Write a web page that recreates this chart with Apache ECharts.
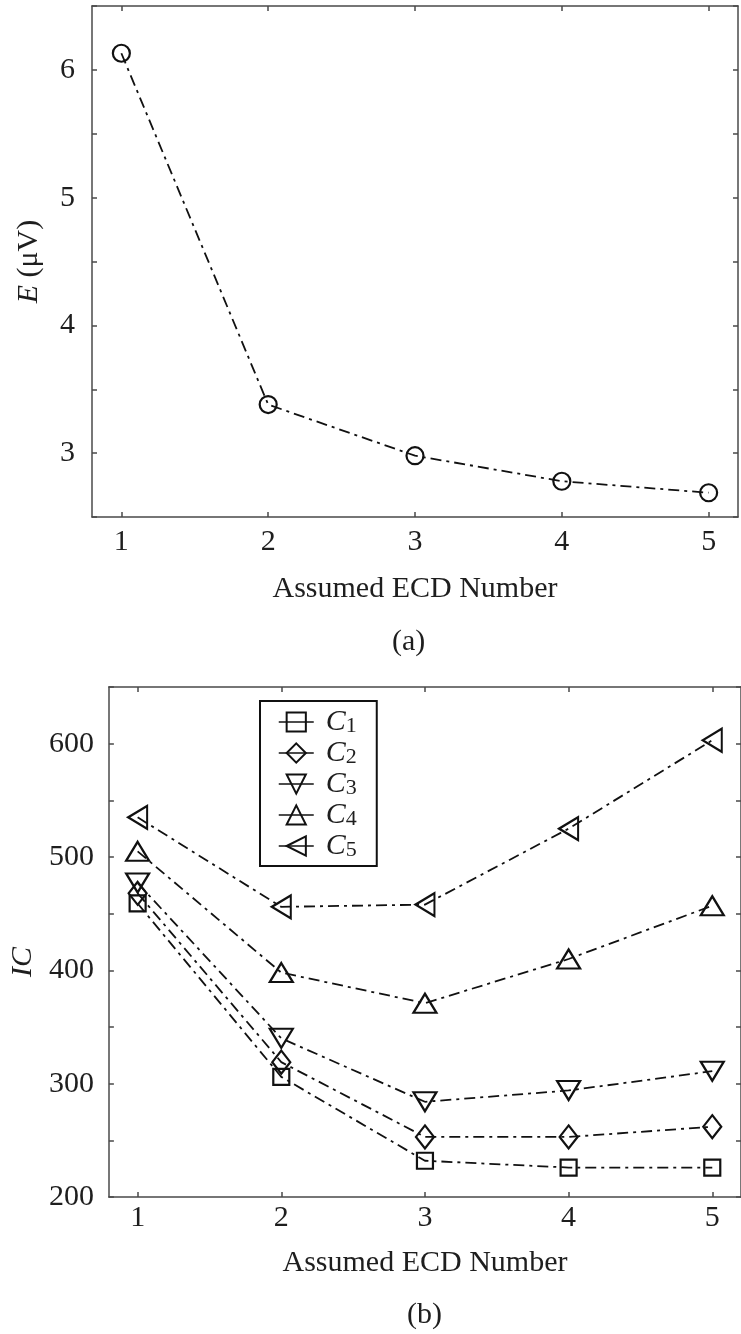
<!DOCTYPE html>
<html>
<head>
<meta charset="utf-8">
<script src="https://cdn.jsdelivr.net/npm/echarts@6/dist/echarts.min.js"></script>
<style>
html,body{margin:0;padding:0;background:#fff;}
#chart{width:741px;height:1334px;}
</style>
</head>
<body>
<div id="chart"></div>
<script>
// ---- data ----
const ecdNumbers = [1, 2, 3, 4, 5];
const energyE = [6.13, 3.38, 2.98, 2.78, 2.69];
const seriesNames = ['C1', 'C2', 'C3', 'C4', 'C5'];
const icC1 = [459, 306, 232, 226, 226];
const icC2 = [468, 319, 253, 253, 262];
const icC3 = [477, 340, 284, 294, 311];
const icC4 = [505, 398, 371, 410, 457];
const icC5 = [535, 456, 458, 525, 603];
const xTickLabels = [1, 2, 3, 4, 5];
const yTickLabelsA = [3, 4, 5, 6];
const yTickLabelsB = [200, 300, 400, 500, 600];
const xAxisTitle = 'Assumed ECD Number';
const panelLabels = ['(a)', '(b)'];

// ---- styling ----
const FONT = "'Liberation Serif', 'Times New Roman', serif";
const AXIS_COLOR = '#4a4a4a';
const TEXT_COLOR = '#1e1e1e';
const LINE_COLOR = '#111';
const dashDot = [11, 5, 3, 5];

const icData = [icC1, icC2, icC3, icC4, icC5];
const symbols = [
  { symbol: 'rect', size: 16, rotate: 0 },
  { symbol: 'diamond', size: [18, 23], rotate: 0 },
  { symbol: 'triangle', size: [23, 19], rotate: 180 },
  { symbol: 'triangle', size: [23, 19], rotate: 0 },
  { symbol: 'triangle', size: [23, 19], rotate: 90 }
];

function pairs(xs, ys) { return xs.map((x, i) => [x, ys[i]]); }

function xAxisCfg(gridIndex, pos, showLabels, margin, nameGap) {
  return {
    type: 'value', gridIndex: gridIndex, position: pos,
    min: 0.8, max: 5.2,
    axisLine: { show: true, onZero: false, lineStyle: { color: AXIS_COLOR, width: 1.5 } },
    axisTick: { show: true, inside: true, length: 5, customValues: xTickLabels, lineStyle: { color: AXIS_COLOR, width: 1.5 } },
    axisLabel: { show: showLabels, customValues: xTickLabels, margin: margin, fontFamily: FONT, fontSize: 30, color: TEXT_COLOR },
    splitLine: { show: false },
    name: showLabels ? xAxisTitle : '',
    nameLocation: 'middle', nameGap: nameGap,
    nameTextStyle: { fontFamily: FONT, fontSize: 30, color: TEXT_COLOR }
  };
}

function yAxisCfg(gridIndex, pos, min, max, interval, labelSet, showLabels, margin, extra) {
  return Object.assign({
    type: 'value', gridIndex: gridIndex, position: pos,
    min: min, max: max, interval: interval,
    axisLine: { show: true, onZero: false, lineStyle: { color: AXIS_COLOR, width: 1.5 } },
    axisTick: { show: true, inside: true, length: 5, lineStyle: { color: AXIS_COLOR, width: 1.5 } },
    axisLabel: {
      show: showLabels, margin: margin, fontFamily: FONT, fontSize: 30, color: TEXT_COLOR,
      formatter: v => (labelSet.indexOf(Math.round(v * 1000) / 1000) >= 0 ? String(v) : '')
    },
    splitLine: { show: false }
  }, extra || {});
}

const series = [{
  type: 'line', name: 'E', xAxisIndex: 0, yAxisIndex: 0,
  data: pairs(ecdNumbers, energyE),
  symbol: 'circle', symbolSize: 17,
  lineStyle: { color: LINE_COLOR, width: 1.8, type: dashDot },
  itemStyle: { color: 'rgba(0,0,0,0)', borderColor: LINE_COLOR, borderWidth: 2.2 },
  emphasis: { disabled: true }
}];

seriesNames.forEach((nm, i) => {
  series.push({
    type: 'line', name: nm, xAxisIndex: 2, yAxisIndex: 2,
    data: pairs(ecdNumbers, icData[i]),
    symbol: symbols[i].symbol, symbolSize: symbols[i].size, symbolRotate: symbols[i].rotate,
    lineStyle: { color: LINE_COLOR, width: 1.8, type: dashDot },
    itemStyle: { color: 'rgba(0,0,0,0)', borderColor: LINE_COLOR, borderWidth: 2.2 },
    emphasis: { disabled: true }
  });
});

const option = {
  animation: false,
  backgroundColor: '#fff',
  grid: [
    { left: 92, top: 6, width: 646, height: 511 },
    { left: 104, top: 687, width: 646, height: 510 }
  ],
  xAxis: [
    xAxisCfg(0, 'bottom', true, 10, 57),
    xAxisCfg(0, 'top', false, 10, 0),
    xAxisCfg(1, 'bottom', true, 6, 51),
    xAxisCfg(1, 'top', false, 6, 0)
  ],
  yAxis: [
    yAxisCfg(0, 'left', 2.5, 6.5, 0.5, yTickLabelsA, true, 17, {
      name: '{i|E} (μV)', nameLocation: 'middle', nameGap: 48,
      nameTextStyle: {
        fontFamily: FONT, fontSize: 30, color: TEXT_COLOR,
        rich: { i: { fontFamily: FONT, fontSize: 30, fontStyle: 'italic', color: TEXT_COLOR } }
      }
    }),
    yAxisCfg(0, 'right', 2.5, 6.5, 0.5, yTickLabelsA, false, 17),
    yAxisCfg(1, 'left', 200, 650, 50, yTickLabelsB, true, 15, {
      name: 'IC', nameLocation: 'middle', nameGap: 70,
      nameTextStyle: { fontFamily: FONT, fontSize: 30, fontStyle: 'italic', color: TEXT_COLOR, padding: [0, 40, 0, 0] }
    }),
    yAxisCfg(1, 'right', 200, 650, 50, yTickLabelsB, false, 15)
  ],
  legend: {
    data: seriesNames,
    orient: 'vertical',
    left: 260, top: 701,
    padding: [6, 20, 5, 18],
    itemGap: 1,
    itemWidth: 35, itemHeight: 24,
    borderColor: '#111', borderWidth: 2,
    backgroundColor: '#fff',
    selectedMode: false,
    lineStyle: { type: 'solid', width: 1.5 },
    formatter: nm => '{i|' + nm.charAt(0) + '}{s|' + nm.slice(1) + '}',
    textStyle: {
      padding: [0, 0, 0, 7],
      rich: {
        i: { fontFamily: FONT, fontSize: 30, fontStyle: 'italic', color: TEXT_COLOR, verticalAlign: 'bottom', lineHeight: 30 },
        s: { fontFamily: FONT, fontSize: 22, color: TEXT_COLOR, verticalAlign: 'bottom', lineHeight: 22 }
      }
    }
  },
  graphic: [
    { type: 'text', left: 392, top: 627, style: { text: panelLabels[0], font: '30px ' + FONT, fill: TEXT_COLOR } },
    { type: 'text', left: 407, top: 1300, style: { text: panelLabels[1], font: '30px ' + FONT, fill: TEXT_COLOR } }
  ],
  series: series
};

const chart = echarts.init(document.getElementById('chart'), null, { renderer: 'canvas' });
chart.setOption(option);
</script>
</body>
</html>
